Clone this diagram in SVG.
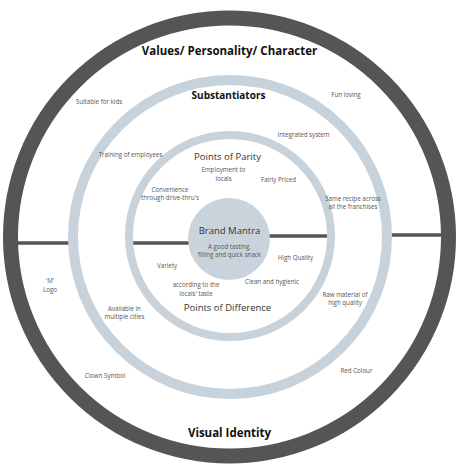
<svg xmlns="http://www.w3.org/2000/svg" width="460" height="470" viewBox="0 0 460 470">
<style>
text{font-family:"Open Sans","Liberation Sans",sans-serif;text-anchor:middle}
.title{font-weight:bold;font-size:11.5px;fill:#111}
.sub{font-weight:bold;font-size:10px;fill:#111}
.head{font-size:9.5px;fill:#333}
.sm{font-size:6.2px;fill:#555}
.ring-dark{fill:none;stroke:#555;stroke-width:15}
.ring-light{fill:none;stroke:#c8d2db}
.bar{stroke:#555;stroke-width:3.5}
</style>
<rect width="460" height="470" fill="#fff"/>
<g id="connectors">
<line class="bar" x1="14" y1="243" x2="70" y2="243"/>
<line class="bar" x1="127" y1="243" x2="190" y2="243"/>
<line class="bar" x1="268" y1="236" x2="334" y2="236"/>
<line class="bar" x1="390" y1="235" x2="444" y2="235"/>
</g>
<g id="visual-values-ring">
<circle class="ring-dark" cx="229.5" cy="237" r="219"/>
<text class="title" x="229.5" y="55">Values/ Personality/ Character</text>
<text class="title" x="229.5" y="437">Visual Identity</text>
</g>
<g id="substantiators-ring">
<circle class="ring-light" stroke-width="10" cx="230" cy="237" r="157"/>
<text class="sub" x="228.5" y="99">Substantiators</text>
</g>
<g id="points-ring">
<circle class="ring-light" stroke-width="8" cx="230" cy="236" r="101"/>
<text class="head" x="227.5" y="160">Points of Parity</text>
<text class="head" x="227.5" y="311">Points of Difference</text>
</g>
<g id="brand-mantra">
<circle cx="229" cy="239" r="41" fill="#c9d3dc"/>
<text class="head" x="229.5" y="234">Brand Mantra</text>
<text class="sm" x="229.5" y="249">A good tasting,</text>
<text class="sm" x="229.5" y="257">filling and quick snack</text>
</g>
<g id="values-items">
<text class="sm" x="99" y="104">Suitable for kids</text>
<text class="sm" x="346" y="97">Fun loving</text>
</g>
<g id="substantiator-items">
<text class="sm" x="303.5" y="137">Integrated system</text>
<text class="sm" x="130.5" y="157">Training of employees</text>
<text class="sm" x="353" y="201">Same recipe across</text>
<text class="sm" x="353" y="209">all the franchises</text>
<text class="sm" x="124.5" y="311">Available in</text>
<text class="sm" x="124.5" y="319">multiple cities</text>
<text class="sm" x="345" y="297">Raw material of</text>
<text class="sm" x="345" y="305">high quality</text>
</g>
<g id="parity-items">
<text class="sm" x="223.5" y="172">Employment to</text>
<text class="sm" x="223.5" y="181">locals</text>
<text class="sm" x="278.5" y="182">Fairly Priced</text>
<text class="sm" x="170" y="192">Convenience</text>
<text class="sm" x="170" y="200">through drive-thru's</text>
</g>
<g id="difference-items">
<text class="sm" x="295.5" y="260">High Quality</text>
<text class="sm" x="167" y="268">Variety</text>
<text class="sm" x="272" y="284">Clean and hygienic</text>
<text class="sm" x="196" y="287">according to the</text>
<text class="sm" x="196" y="296">locals' taste</text>
</g>
<g id="visual-items">
<text class="sm" x="50" y="283">'M'</text>
<text class="sm" x="50" y="292">Logo</text>
<text class="sm" x="105" y="378">Clown Symbol</text>
<text class="sm" x="356.5" y="373">Red Colour</text>
</g>
</svg>
